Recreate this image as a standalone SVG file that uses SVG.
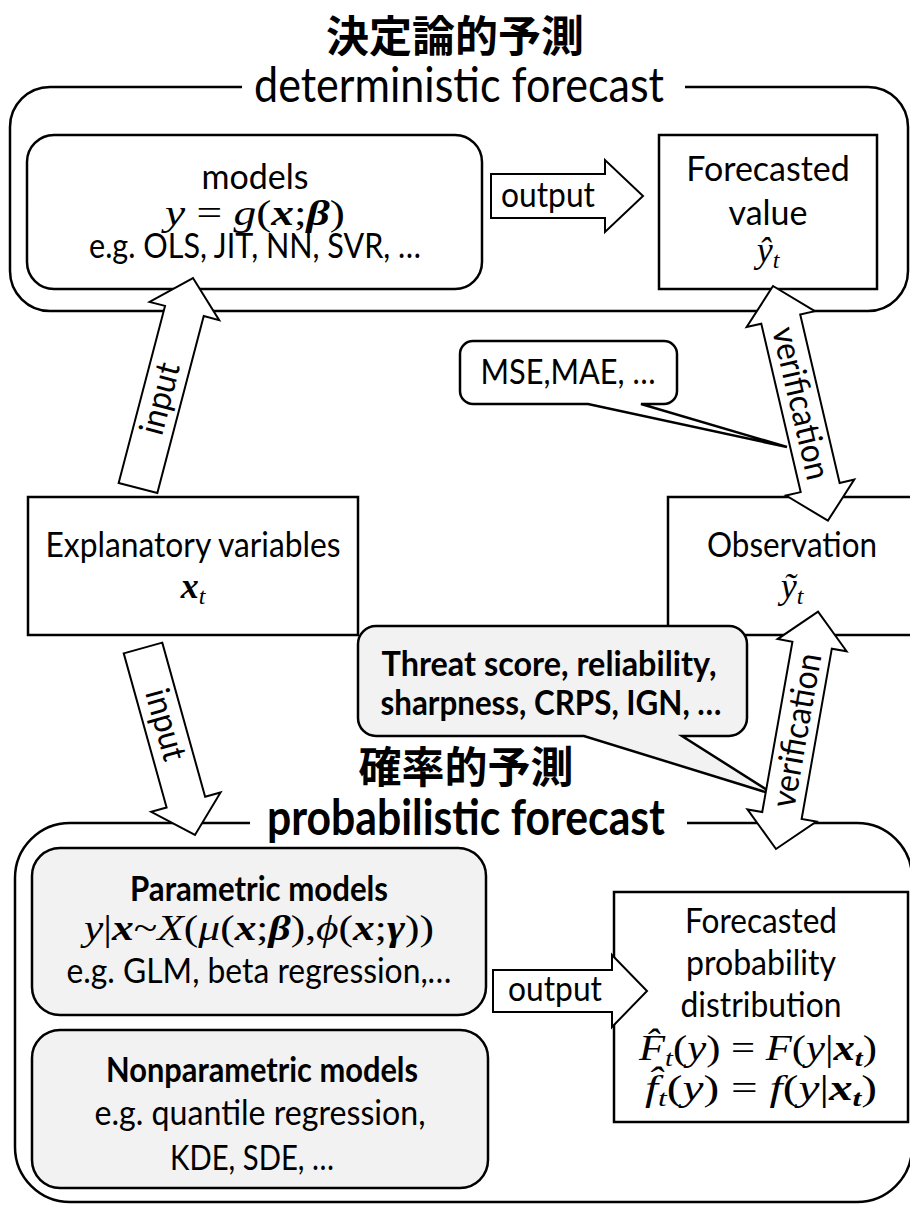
<svg xmlns="http://www.w3.org/2000/svg" width="910" height="1207" viewBox="0 0 910 1207">
<style>
.t{font-family:Lato,"Liberation Sans",sans-serif;font-size:34px;fill:#000;text-anchor:middle}
.ttl{font-size:49px}
.b{font-weight:bold}
.m{font-family:"Liberation Serif","DejaVu Serif",serif;font-style:italic;font-size:36px;fill:#000;text-anchor:middle}
.n{font-style:normal}
.w{font-weight:bold}
.sub{font-size:24px}
.cjk{font-family:"Noto Sans CJK JP","Noto Sans CJK SC",sans-serif;font-weight:bold;font-size:43px;fill:#000;text-anchor:middle}
.frame{fill:none;stroke:#000;stroke-width:2.5}
.box{fill:#fff;stroke:#000;stroke-width:2.5}
.gbox{fill:#f2f2f2;stroke:#000;stroke-width:2.5}
.arr{fill:#fff;stroke:#000;stroke-width:2;stroke-linejoin:miter}
</style>
<rect width="910" height="1207" fill="#fff"/>

<g id="deterministic-frame">
<path class="frame" d="M242,87 H50 A40,40 0 0 0 10,127 V271 A40,40 0 0 0 50,311 H868 A40,40 0 0 0 908,271 V127 A40,40 0 0 0 868,87 H685"/>
<text class="cjk" x="455" y="52">決定論的予測</text>
<text class="t ttl" x="459" y="102" textLength="410" lengthAdjust="spacingAndGlyphs">deterministic forecast</text>
</g>

<g id="probabilistic-frame">
<path class="frame" d="M250,823 H70 A55,55 0 0 0 15,878 V1147 A55,55 0 0 0 70,1202 H857 A55,55 0 0 0 912,1147 V878 A55,55 0 0 0 857,823 H687"/>
<text class="cjk" x="466" y="783">確率的予測</text>
<text class="t ttl b" x="466" y="835" textLength="398" lengthAdjust="spacingAndGlyphs">probabilistic forecast</text>
</g>

<g id="models">
<rect class="box" x="27" y="135" width="455" height="154" rx="27"/>
<text class="t" x="255" y="189">models</text>
<text class="m" x="255" y="225" textLength="180" lengthAdjust="spacingAndGlyphs">y <tspan class="n">=</tspan> g<tspan class="n">(</tspan><tspan class="w">x</tspan><tspan class="n">;</tspan><tspan class="w">β</tspan><tspan class="n">)</tspan></text>
<text class="t" x="255" y="258" textLength="332" lengthAdjust="spacingAndGlyphs">e.g. OLS, JIT, NN, SVR, …</text>
</g>

<g id="forecasted-value">
<rect class="box" x="659" y="135" width="218" height="154"/>
<text class="t" x="768" y="181">Forecasted</text>
<text class="t" x="768" y="225">value</text>
<text class="m" x="768" y="262">ŷ<tspan class="sub" dy="6">t</tspan></text>
</g>

<g id="explanatory">
<rect class="box" x="28" y="497" width="330" height="138"/>
<text class="t" x="193" y="557" textLength="295" lengthAdjust="spacingAndGlyphs">Explanatory variables</text>
<text class="m" x="193" y="598"><tspan class="w">x</tspan><tspan class="sub" dy="6">t</tspan></text>
</g>

<g id="observation">
<rect class="box" x="668" y="497" width="260" height="138"/>
<text class="t" x="792" y="557" textLength="170" lengthAdjust="spacingAndGlyphs">Observation</text>
<text class="m" x="792" y="598">ỹ<tspan class="sub" dy="6">t</tspan></text>
</g>

<g id="parametric">
<rect class="gbox" x="32" y="848" width="454" height="167" rx="28"/>
<text class="t b" x="259" y="901" textLength="258" lengthAdjust="spacingAndGlyphs">Parametric models</text>
<text class="m" x="259" y="940" textLength="350" lengthAdjust="spacingAndGlyphs">y<tspan class="n">|</tspan><tspan class="w">x</tspan><tspan class="n">~</tspan>X<tspan class="n">(</tspan>μ<tspan class="n">(</tspan><tspan class="w">x</tspan><tspan class="n">;</tspan><tspan class="w">β</tspan><tspan class="n">),</tspan>ϕ<tspan class="n">(</tspan><tspan class="w">x</tspan><tspan class="n">;</tspan><tspan class="w">γ</tspan><tspan class="n">))</tspan></text>
<text class="t" x="259" y="983" textLength="385" lengthAdjust="spacingAndGlyphs">e.g. GLM, beta regression,…</text>
</g>

<g id="nonparametric">
<rect class="gbox" x="32" y="1030" width="456" height="158" rx="28"/>
<text class="t b" x="262" y="1082" textLength="312" lengthAdjust="spacingAndGlyphs">Nonparametric models</text>
<text class="t" x="260" y="1125" textLength="331" lengthAdjust="spacingAndGlyphs">e.g. quantile regression,</text>
<text class="t" x="252" y="1170" textLength="164" lengthAdjust="spacingAndGlyphs">KDE, SDE, …</text>
</g>

<g id="forecasted-distribution">
<rect class="box" x="614" y="892" width="294" height="230"/>
<text class="t" x="761" y="933" textLength="152" lengthAdjust="spacingAndGlyphs">Forecasted</text>
<text class="t" x="761" y="975" textLength="150" lengthAdjust="spacingAndGlyphs">probability</text>
<text class="t" x="761" y="1017" textLength="161" lengthAdjust="spacingAndGlyphs">distribution</text>
<text class="m" x="758" y="1060" textLength="238" lengthAdjust="spacingAndGlyphs">F&#x302;<tspan class="sub" dy="6">t</tspan><tspan class="n" dy="-6">(</tspan>y<tspan class="n">) = </tspan>F<tspan class="n">(</tspan>y<tspan class="n">|</tspan><tspan class="w">x</tspan><tspan class="w sub" dy="6">t</tspan><tspan class="n" dy="-6">)</tspan></text>
<text class="m" x="761" y="1100" textLength="232" lengthAdjust="spacingAndGlyphs">f&#x302;<tspan class="sub" dy="6">t</tspan><tspan class="n" dy="-6">(</tspan>y<tspan class="n">) = </tspan>f<tspan class="n">(</tspan>y<tspan class="n">|</tspan><tspan class="w">x</tspan><tspan class="w sub" dy="6">t</tspan><tspan class="n" dy="-6">)</tspan></text>
</g>

<g id="callout-mse">
<path class="box" d="M473,341 H664 A13,13 0 0 1 677,354 V391 A13,13 0 0 1 664,404 H641 L787,447 L588,404 H473 A13,13 0 0 1 460,391 V354 A13,13 0 0 1 473,341 Z"/>
<text class="t" x="568" y="384" textLength="175" lengthAdjust="spacingAndGlyphs">MSE,MAE, …</text>
</g>

<g id="callout-threat">
<path class="gbox" d="M376,626 H729 A18,18 0 0 1 747,644 V718 A18,18 0 0 1 729,736 H682 L775,795 L584,736 H376 A18,18 0 0 1 358,718 V644 A18,18 0 0 1 376,626 Z"/>
<text class="t b" x="549" y="676" textLength="335" lengthAdjust="spacingAndGlyphs">Threat score, reliability,</text>
<text class="t b" x="551" y="715" textLength="341" lengthAdjust="spacingAndGlyphs">sharpness, CRPS, IGN, …</text>
</g>

<g id="connectors">
<g transform="translate(491,196)">
<polygon class="arr" points="0,-22 114,-22 114,-36 152,0 114,36 114,22 0,22"/>
<text class="t" x="57" y="11" textLength="94" lengthAdjust="spacingAndGlyphs">output</text>
</g>
<g transform="translate(493,991)">
<polygon class="arr" points="0,-21 119,-21 119,-36 154,0 119,36 119,21 0,21"/>
<text class="t" x="62" y="10" textLength="94" lengthAdjust="spacingAndGlyphs">output</text>
</g>
<g transform="translate(138,488) rotate(-75.32)">
<polygon class="arr" points="0,-20 183,-20 183,-36 217,0 183,36 183,20 0,20"/>
<text class="t" x="92" y="10" textLength="73" lengthAdjust="spacingAndGlyphs">input</text>
</g>
<g transform="translate(143,648) rotate(74.46)">
<polygon class="arr" points="0,-20 160,-20 160,-36 194,0 160,36 160,20 0,20"/>
<text class="t" x="80" y="10" textLength="73" lengthAdjust="spacingAndGlyphs">input</text>
</g>
<g transform="translate(773,286) rotate(76.83)">
<polygon class="arr" points="0,0 34,-35 34,-20 207,-20 207,-35 241,0 207,35 207,20 34,20 34,35"/>
<text class="t" x="120.5" y="11" textLength="156" lengthAdjust="spacingAndGlyphs">verification</text>
</g>
<g transform="translate(776,849) rotate(-79.95)">
<polygon class="arr" points="0,0 34,-35 34,-20 207,-20 207,-35 241,0 207,35 207,20 34,20 34,35"/>
<text class="t" x="120.5" y="11" textLength="156" lengthAdjust="spacingAndGlyphs">verification</text>
</g>
</g>
</svg>
